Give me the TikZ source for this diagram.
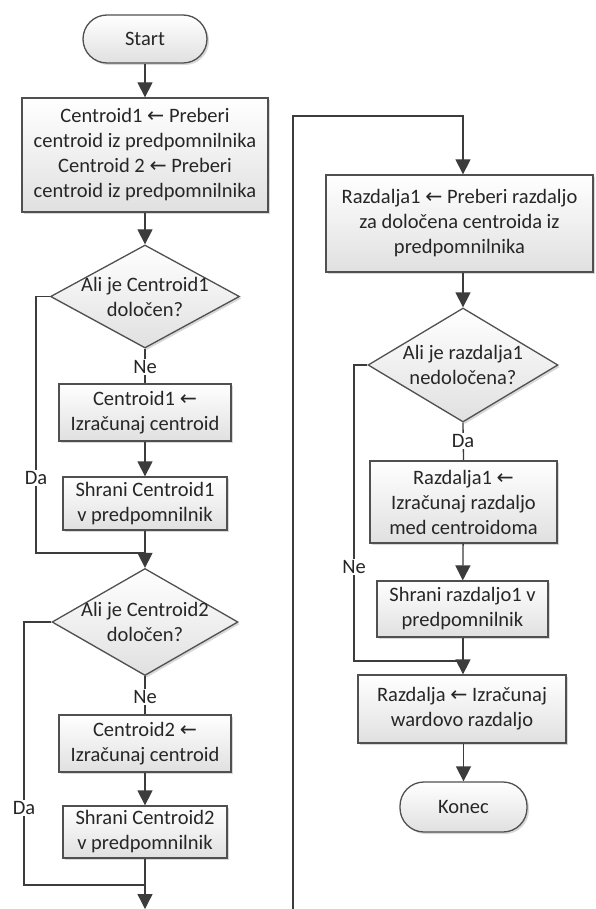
\documentclass[tikz,border=0pt]{standalone}
\usepackage{fontspec}
\setmainfont{Carlito}
\newfontfamily\arrowfont{DejaVu Sans}
\usetikzlibrary{arrows.meta,shapes.geometric,shadows}
\newcommand\lar{{\arrowfont ←}}
\definecolor{ln}{HTML}{3C3C3C}
\definecolor{bd}{HTML}{505050}
\definecolor{tx}{HTML}{262626}
\definecolor{fb}{HTML}{E0E0E0}
\tikzset{
  base/.style={draw=bd, line width=1.3pt, top color=white, bottom color=fb,
    text=tx, align=center, inner sep=0pt,
    font=\fontsize{20.5}{25}\selectfont,
    drop shadow={shadow xshift=2pt, shadow yshift=-2pt, fill=black!30, opacity=0.5}},
  proc/.style={base, rectangle},
  term/.style={base, rectangle, rounded corners=24pt},
  dia/.style={base, diamond},
  dtext/.style={text=tx, align=center, font=\fontsize{20.5}{25}\selectfont},
  lbl/.style={fill=white, text=tx, inner sep=1pt, font=\fontsize{20.5}{22}\selectfont},
  con/.style={draw=ln, line width=1.3pt},
  arr/.style={con, -{Triangle[width=15pt,length=15pt]}}
}
\begin{document}
\begin{tikzpicture}[x=1pt,y=-1pt]
\useasboundingbox[fill=white] (0,0) rectangle (595,909);
% left column
\node[term, minimum width=124pt, minimum height=48pt] (start) at (145,39) {Start};
\node[proc, minimum width=246pt, minimum height=114pt] (b1) at (145,155)
  {Centroid1 \lar{} Preberi\\centroid iz predpomnilnika\\Centroid 2 \lar{} Preberi\\centroid iz predpomnilnika};
\node[dia, minimum width=189pt, minimum height=103pt] (d1) at (145,296.5) {};
\node[dtext] (d1t) at (d1) {Ali je Centroid1\\določen?};
\node[proc, minimum width=172pt, minimum height=57pt] (b2) at (145,412.5) {Centroid1 \lar\\Izračunaj centroid};
\node[proc, minimum width=164pt, minimum height=53pt] (b3) at (145,503.5) {Shrani Centroid1\\v predpomnilnik};
\coordinate (j1) at (145,553);
\node[dia, minimum width=186pt, minimum height=107pt] (d2) at (145,622) {};
\node[dtext] (d2t) at (d2) {Ali je Centroid2\\določen?};
\node[proc, minimum width=172pt, minimum height=57pt] (b4) at (145,743.5) {Centroid2 \lar\\Izračunaj centroid};
\node[proc, minimum width=164pt, minimum height=52pt] (b5) at (145,832) {Shrani Centroid2\\v predpomnilnik};
\coordinate (j2) at (145,885);
\coordinate (endL) at (145,909);
\coordinate (c1) at (36,553);
\coordinate (c2) at (24,885);
% right column
\coordinate (rs) at (293,909);
\coordinate (t6) at (463,116);
\node[proc, minimum width=267pt, minimum height=97pt] (b6) at (459.5,223.5)
  {Razdalja1 \lar{} Preberi razdaljo\\za določena centroida iz\\predpomnilnika};
\node[dia, minimum width=190pt, minimum height=114pt] (d3) at (463,365) {};
\node[dtext] (d3t) at (d3) {Ali je razdalja1\\nedoločena?};
\node[proc, minimum width=187pt, minimum height=82pt] (b7) at (463.5,502)
  {Razdalja1 \lar\\Izračunaj razdaljo\\med centroidoma};
\node[proc, minimum width=171pt, minimum height=56pt] (b8) at (462.5,609) {Shrani razdaljo1 v\\predpomnilnik};
\coordinate (j3) at (463,661);
\coordinate (c3) at (354,661);
\node[proc, minimum width=208pt, minimum height=68pt] (b9) at (462,709) {Razdalja \lar{} Izračunaj\\wardovo razdaljo};
\node[term, minimum width=127pt, minimum height=50pt] (kon) at (463.5,807) {Konec};
% connectors left
\draw[arr] (start) -- (b1);
\draw[arr] (b1) -- (d1.north);
\draw[con] (d1.south) -- (b2.north);
\draw[arr] (b2) -- (b3);
\draw[con] (b3) -- (j1);
\draw[arr] (j1) -- (d2.north);
\draw[con] (d1.west) -| (c1) -- (j1);
\draw[con] (d2.south) -- (b4.north);
\draw[arr] (b4) -- (b5);
\draw[con] (b5) -- (j2);
\draw[arr] (j2) -- (endL);
\draw[con] (d2.west) -| (c2) -- (j2);
% connectors right
\draw[arr] (rs) |- (t6) -- (t6 |- b6.north);
\draw[arr] (t6 |- b6.south) -- (d3.north);
\draw[con] (d3.south) -- (b7.north);
\draw[arr] (b7) -- (b8);
\draw[con] (b8.south -| j3) -- (j3);
\draw[arr] (j3) -- (j3 |- b9.north);
\draw[con] (d3.west) -| (c3) -- (j3);
\draw[arr] (b9.south -| kon) -- (kon);
% labels
\node[lbl] (n1) at (145,367) {Ne};
\node[lbl] (a1) at (36,478) {Da};
\node[lbl] (n2) at (145,697) {Ne};
\node[lbl] (a2) at (24,808) {Da};
\node[lbl] (a3) at (463,441) {Da};
\node[lbl] (n3) at (354,567) {Ne};
\end{tikzpicture}
\end{document}
